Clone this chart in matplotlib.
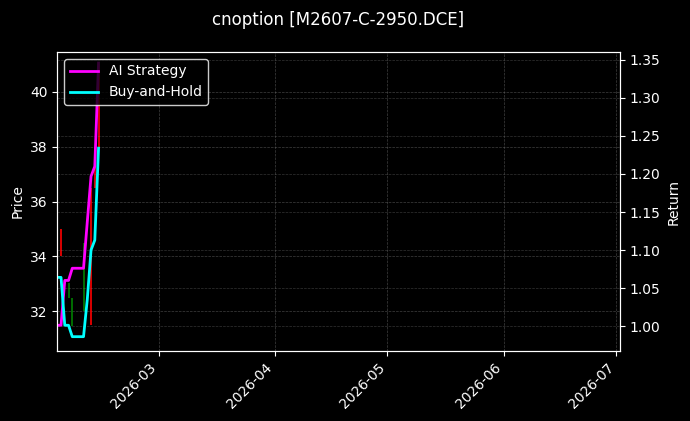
from __future__ import annotations

import matplotlib

matplotlib.use("Agg")
import matplotlib.dates as mdates
import matplotlib.pyplot as plt
import pandas as pd

TITLE = "cnoption [M2607-C-2950.DCE]"

DATES = [
    "2026-02-02", "2026-02-03", "2026-02-04", "2026-02-05", "2026-02-06",
    "2026-02-09", "2026-02-10", "2026-02-11", "2026-02-12", "2026-02-13",
]
# candle bodies: open / close (red = up, green = down)
OPEN = [31.05, 34.0, 33.6, 33.05, 32.5, 34.5, 34.2, 31.5, 36.5, 38.0]
CLOSE = [31.05, 35.0, 33.6, 32.5, 31.47, 32.0, 34.2, 36.5, 38.0, 41.0]
AI_STRATEGY = [1.001, 1.001, 1.06, 1.06, 1.076, 1.076, 1.137, 1.197, 1.21, 1.346]
BUY_AND_HOLD = [1.064, 1.064, 1.001, 1.001, 0.986, 0.986, 1.035, 1.10, 1.113, 1.234]

X_START = "2026-02-02"
X_END = "2026-07-02"


def main() -> None:
    plt.style.use("dark_background")
    dates = pd.to_datetime(DATES)

    fig = plt.figure(figsize=(6.9, 4.21), dpi=100)
    ax = fig.add_axes([0.083, 0.166, 0.8156, 0.7105])
    ax2 = ax.twinx()

    for day, op, cl in zip(dates, OPEN, CLOSE):
        color = "red" if cl >= op else "green"
        ax.vlines(day, min(op, cl), max(op, cl), color=color, linewidth=1.2)

    ax2.plot(dates, AI_STRATEGY, color="#ff00ff", linewidth=2, label="AI Strategy")
    ax2.plot(dates, BUY_AND_HOLD, color="#00ffff", linewidth=2, label="Buy-and-Hold")

    ax.set_xlim(pd.Timestamp(X_START), pd.Timestamp(X_END))
    ax.set_ylim(30.55, 41.45)
    ax2.set_ylim(0.967, 1.3605)

    ax.set_ylabel("Price")
    ax2.set_ylabel("Return")
    ax.grid(True, linestyle="--", linewidth=0.5, color="gray", alpha=0.5)
    ax2.grid(True, axis="y", linestyle="--", linewidth=0.5, color="gray", alpha=0.4)

    ax.xaxis.set_major_locator(mdates.MonthLocator())
    ax.xaxis.set_major_formatter(mdates.DateFormatter("%Y-%m"))
    plt.setp(ax.get_xticklabels(), rotation=45, ha="right")

    ax2.legend(loc="upper left", fontsize=10, facecolor="black", edgecolor="white")
    fig.suptitle(TITLE, fontsize=12, x=0.49, y=0.973)

    fig.savefig("out.png", dpi=100)
    plt.close(fig)


if __name__ == "__main__":
    main()
